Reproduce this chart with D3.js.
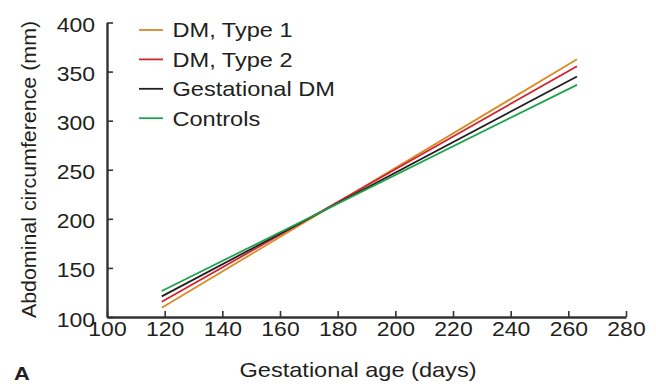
<!DOCTYPE html>
<html>
<head>
<meta charset="utf-8">
<script src="https://cdn.jsdelivr.net/npm/d3@7"></script>
<style>
body { margin: 0; background: #fff; }
text { font-family: "Liberation Sans", Arial, sans-serif; fill: #231f20; }
</style>
</head>
<body>
<div id="chart"></div>
<script>
var seriesNames = ["DM, Type 1", "DM, Type 2", "Gestational DM", "Controls"];
var seriesColors = ["#d98a26", "#d1232f", "#231f20", "#1ea24c"];
var ageDays = [119, 263];
var type1Values = [109.5, 362.5];
var type2Values = [115.5, 355.5];
var gestValues = [121, 345];
var controlValues = [126.5, 336.5];
var xTicks = [100, 120, 140, 160, 180, 200, 220, 240, 260, 280];
var yTicks = [100, 150, 200, 250, 300, 350, 400];

var allValues = [type1Values, type2Values, gestValues, controlValues];

var iWidth = 656, iHeight = 386;
var fStretch = 1.15; // the figure's lettering is a bit wider than Liberation Sans
var svg = d3.select("#chart").append("svg")
	.attr("width", iWidth)
	.attr("height", iHeight);

var x = d3.scaleLinear().domain([100, 280]).range([107, 626]);
var y = d3.scaleLinear().domain([100, 400]).range([317, 22.5]);

// axes
var xAxis = svg.append("g")
	.attr("transform", "translate(0," + y(100) + ")")
	.call(d3.axisBottom(x).tickValues(xTicks).tickSize(-6).tickPadding(5).tickSizeOuter(0));
var yAxis = svg.append("g")
	.attr("transform", "translate(" + x(100) + ",0)")
	.call(d3.axisLeft(y).tickValues(yTicks).tickSize(-6).tickPadding(12).tickSizeOuter(0));

[xAxis, yAxis].forEach(function(a) {
	a.select(".domain").attr("stroke", "#333").attr("stroke-width", 2.4);
	a.selectAll(".tick line").attr("stroke", "#333").attr("stroke-width", 1.6);
	a.selectAll(".tick text").style("font-size", "20px").attr("fill", "#231f20")
		.style("font-family", "'Liberation Sans', Arial, sans-serif");
});
xAxis.selectAll(".tick text")
	.attr("transform", "scale(" + fStretch + ",1)");
yAxis.selectAll(".tick text")
	.attr("x", 0)
	.attr("dy", "0.45em")
	.attr("transform", "translate(-12,0) scale(" + fStretch + ",1)");

// lines
var line = d3.line()
	.x(function(d, i) { return x(ageDays[i]); })
	.y(function(d) { return y(d); });

allValues.forEach(function(vals, i) {
	svg.append("path")
		.datum(vals)
		.attr("d", line)
		.attr("fill", "none")
		.attr("stroke", seriesColors[i])
		.attr("stroke-width", 1.8);
});

// legend
var legend = svg.append("g");
seriesNames.forEach(function(name, i) {
	var yy = 30 + i * 29.4;
	legend.append("line")
		.attr("x1", 139).attr("x2", 163)
		.attr("y1", yy).attr("y2", yy)
		.attr("stroke", seriesColors[i]).attr("stroke-width", 1.8);
	legend.append("text")
		.attr("transform", "translate(172.5," + (yy + 7.3) + ") scale(" + fStretch + ",1)")
		.style("font-size", "20.5px")
		.text(name);
});

// axis titles
svg.append("text")
	.attr("transform", "translate(358,377) scale(" + fStretch + ",1)")
	.attr("text-anchor", "middle")
	.style("font-size", "20.5px")
	.text("Gestational age (days)");

svg.append("text")
	.attr("transform", "translate(36,169.5) rotate(-90) scale(1.07,1)")
	.attr("text-anchor", "middle")
	.style("font-size", "20px")
	.text("Abdominal circumference (mm)");

svg.append("text")
	.attr("transform", "translate(14,380) scale(" + fStretch + ",1)")
	.style("font-size", "19px")
	.style("font-weight", "bold")
	.text("A");
</script>
</body>
</html>
